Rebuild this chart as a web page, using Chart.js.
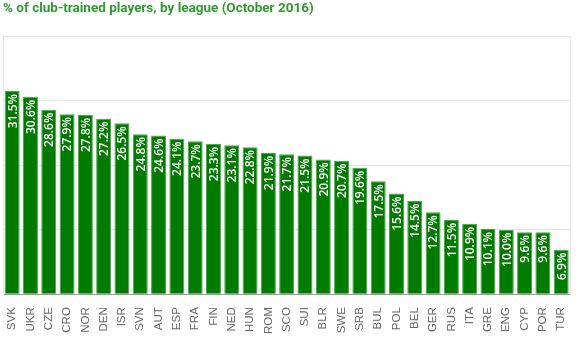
<!DOCTYPE html>
<html>
<head>
<meta charset="utf-8">
<script src="https://cdn.jsdelivr.net/npm/chart.js@4/dist/chart.umd.min.js"></script>
<style>
  html, body { margin: 0; padding: 0; background: #fff; }
  #wrap { width: 580px; height: 339px; }
</style>
</head>
<body>
<div id="wrap"><canvas id="leagueChart" width="580" height="339"></canvas></div>
<script>
// league codes, sorted high to low
const leagues = ['SVK', 'UKR', 'CZE', 'CRO', 'NOR', 'DEN', 'ISR', 'SVN', 'AUT', 'ESP', 'FRA',
    'FIN', 'NED', 'HUN', 'ROM', 'SCO', 'SUI', 'BLR', 'SWE', 'SRB', 'BUL', 'POL', 'BEL', 'GER',
    'RUS', 'ITA', 'GRE', 'ENG', 'CYP', 'POR', 'TUR'];
// % of club-trained players
const clubTrained = [31.5, 30.6, 28.6, 27.9, 27.8, 27.2, 26.5, 24.8, 24.6, 24.1, 23.7,
    23.3, 23.1, 22.8, 21.9, 21.7, 21.5, 20.9, 20.7, 19.6, 17.5, 15.6, 14.5, 12.7,
    11.5, 10.9, 10.1, 10.0, 9.6, 9.6, 6.9];
const yTicks = [0, 10, 20, 30, 40];

// white value labels inside the top of each bar
const barLabels = {
    id: 'barLabels',
    afterDatasetsDraw(chart) {
        const ctx = chart.ctx;
        const meta = chart.getDatasetMeta(0);
        ctx.save();
        ctx.fillStyle = '#ffffff';
        ctx.font = '600 12px "Open Sans"';
        ctx.textAlign = 'right';
        ctx.textBaseline = 'middle';
        meta.data.forEach((bar, i) => {
            ctx.save();
            ctx.translate(bar.x, bar.y + 3);
            ctx.rotate(-Math.PI / 2);
            ctx.fillText(clubTrained[i].toFixed(1) + '%', 0, 1);
            ctx.restore();
        });
        ctx.restore();
    }
};

new Chart(document.getElementById('leagueChart'), {
    type: 'bar',
    data: {
        labels: leagues,
        datasets: [{
            data: clubTrained,
            backgroundColor: '#007b00',
            borderColor: '#46a846',
            borderWidth: 1,
            barPercentage: 0.82,
            categoryPercentage: 1
        }]
    },
    options: {
        responsive: false,
        animation: false,
        layout: { padding: { left: 3, right: 1, top: 0, bottom: 0 } },
        plugins: {
            legend: { display: false },
            tooltip: { enabled: false },
            title: {
                display: true,
                text: '% of club-trained players, by league (October 2016)',
                align: 'start',
                color: '#2f9a2f',
                font: { family: 'Roboto', size: 13.5, weight: 'bold' },
                padding: { top: 1, bottom: 19 }
            }
        },
        scales: {
            x: {
                grid: { display: false },
                border: { color: '#9a9a9a' },
                ticks: {
                    minRotation: 90,
                    maxRotation: 90,
                    color: '#666',
                    padding: 5,
                    font: { family: 'Liberation Sans', size: 11.5 }
                }
            },
            y: {
                min: 0,
                max: 40,
                afterBuildTicks(axis) { axis.ticks = yTicks.map(v => ({ value: v })); },
                grid: { color: '#e3e8ee', drawTicks: false },
                border: { color: '#e3e8ee' },
                ticks: { display: false }
            },
            y2: {
                position: 'right',
                min: 0,
                max: 40,
                grid: { display: false, drawTicks: false },
                border: { color: '#e3e8ee' },
                ticks: { display: false }
            }
        }
    },
    plugins: [barLabels]
});
</script>
</body>
</html>
